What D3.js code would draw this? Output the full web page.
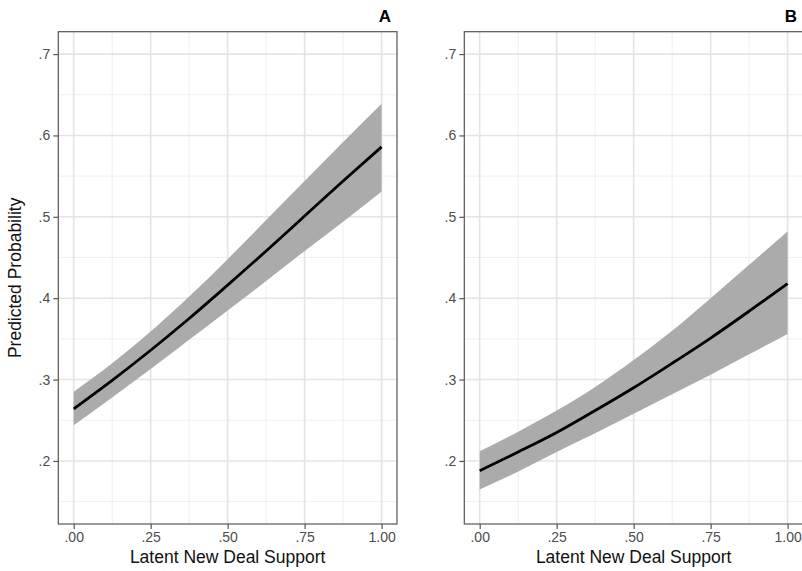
<!DOCTYPE html>
<html>
<head>
<meta charset="utf-8">
<script src="https://cdn.jsdelivr.net/npm/d3@7"></script>
<style>
  body { margin: 0; background: #fff; }
  svg { display: block; font-family: "Liberation Sans", Arial, sans-serif; }
</style>
</head>
<body>
<svg id="svg" width="802" height="571"></svg>
<script>
// values
let support = [0, 0.125, 0.25, 0.375, 0.5, 0.625, 0.75, 0.875, 1];

let fitA = [0.264, 0.299, 0.336, 0.375, 0.416, 0.458, 0.501, 0.544, 0.586];
let lowA = [0.244, 0.278, 0.313, 0.349, 0.385, 0.421, 0.458, 0.494, 0.531];
let highA = [0.285, 0.320, 0.359, 0.402, 0.448, 0.496, 0.544, 0.592, 0.639];

let fitB = [0.188, 0.211, 0.235, 0.262, 0.290, 0.320, 0.351, 0.384, 0.418];
let lowB = [0.165, 0.187, 0.211, 0.234, 0.258, 0.282, 0.306, 0.331, 0.356];
let highB = [0.212, 0.236, 0.262, 0.291, 0.324, 0.360, 0.400, 0.441, 0.482];

let xTicks = [0, 0.25, 0.5, 0.75, 1];
let xTickLabels = ['.00', '.25', '.50', '.75', '1.00'];
let xMinor = [0.125, 0.375, 0.625, 0.875];
let yTicks = [0.2, 0.3, 0.4, 0.5, 0.6, 0.7];
let yTickLabels = ['.2', '.3', '.4', '.5', '.6', '.7'];
let yMinor = [0.15, 0.25, 0.35, 0.45, 0.55, 0.65];

let panels = [
    { title: 'A', left: 58.3, fit: fitA, low: lowA, high: highA },
    { title: 'B', left: 464.3, fit: fitB, low: lowB, high: highB }
];

let svg = d3.select('#svg');
let panelWidth = 338.7;
let plotTop = 31.7, plotBottom = 524;

let yScale = d3.scaleLinear()
    .domain([0.1225, 0.7275])
    .range([plotBottom, plotTop]);

panels.forEach((p) => {
    let xScale = d3.scaleLinear()
        .domain([-0.05, 1.05])
        .range([p.left, p.left + panelWidth]);

    let g = svg.append('g');

    // minor grid
    g.selectAll('.vminor').data(xMinor).enter().append('line')
        .attr('x1', d => xScale(d)).attr('x2', d => xScale(d))
        .attr('y1', plotTop).attr('y2', plotBottom)
        .attr('stroke', '#efefef').attr('stroke-width', 1);
    g.selectAll('.hminor').data(yMinor).enter().append('line')
        .attr('x1', p.left).attr('x2', p.left + panelWidth)
        .attr('y1', d => yScale(d)).attr('y2', d => yScale(d))
        .attr('stroke', '#efefef').attr('stroke-width', 1);

    // major grid
    g.selectAll('.vmajor').data(xTicks).enter().append('line')
        .attr('x1', d => xScale(d)).attr('x2', d => xScale(d))
        .attr('y1', plotTop).attr('y2', plotBottom)
        .attr('stroke', '#e4e4e4').attr('stroke-width', 1.6);
    g.selectAll('.hmajor').data(yTicks).enter().append('line')
        .attr('x1', p.left).attr('x2', p.left + panelWidth)
        .attr('y1', d => yScale(d)).attr('y2', d => yScale(d))
        .attr('stroke', '#e4e4e4').attr('stroke-width', 1.6);

    let rows = support.map((x, i) => ({ x: x, fit: p.fit[i], low: p.low[i], high: p.high[i] }));

    let area = d3.area()
        .x(d => xScale(d.x))
        .y0(d => yScale(d.low))
        .y1(d => yScale(d.high))
        .curve(d3.curveMonotoneX);

    let line = d3.line()
        .x(d => xScale(d.x))
        .y(d => yScale(d.fit))
        .curve(d3.curveMonotoneX);

    g.append('path').datum(rows)
        .attr('d', area)
        .attr('fill', '#ababab');

    g.append('path').datum(rows)
        .attr('d', line)
        .attr('fill', 'none')
        .attr('stroke', '#000')
        .attr('stroke-width', 2.8);

    // panel border
    g.append('rect')
        .attr('x', p.left).attr('y', plotTop)
        .attr('width', panelWidth).attr('height', plotBottom - plotTop)
        .attr('fill', 'none')
        .attr('stroke', '#555').attr('stroke-width', 1.2);

    // axes
    let xAxis = d3.axisBottom(xScale)
        .tickValues(xTicks)
        .tickFormat((d, i) => xTickLabels[i])
        .tickSize(5).tickPadding(3);
    let ax = g.append('g')
        .attr('transform', 'translate(0,' + plotBottom + ')')
        .call(xAxis);

    let yAxis = d3.axisLeft(yScale)
        .tickValues(yTicks)
        .tickFormat((d, i) => yTickLabels[i])
        .tickSize(5).tickPadding(3);
    let ay = g.append('g')
        .attr('transform', 'translate(' + p.left + ',0)')
        .call(yAxis);

    [ax, ay].forEach((a) => {
        a.select('.domain').remove();
        a.selectAll('.tick line').attr('stroke', '#555').attr('stroke-width', 1.2);
        a.selectAll('.tick text')
            .attr('fill', '#4d4d4d')
            .attr('font-size', '14px')
            .attr('font-family', '"Liberation Sans", Arial, sans-serif');
    });

    g.append('text')
        .attr('x', p.left + panelWidth / 2)
        .attr('y', 563)
        .attr('text-anchor', 'middle')
        .attr('font-size', '17.5px')
        .attr('fill', '#111')
        .text('Latent New Deal Support');

    g.append('text')
        .attr('x', p.left + panelWidth - 6)
        .attr('y', 22)
        .attr('text-anchor', 'end')
        .attr('font-size', '17px')
        .attr('font-weight', 'bold')
        .attr('fill', '#000')
        .text(p.title);
});

svg.append('text')
    .attr('transform', 'translate(21,' + (plotTop + plotBottom) / 2 + ') rotate(-90)')
    .attr('text-anchor', 'middle')
    .attr('font-size', '17.5px')
    .attr('fill', '#111')
    .text('Predicted Probability');
</script>
</body>
</html>
